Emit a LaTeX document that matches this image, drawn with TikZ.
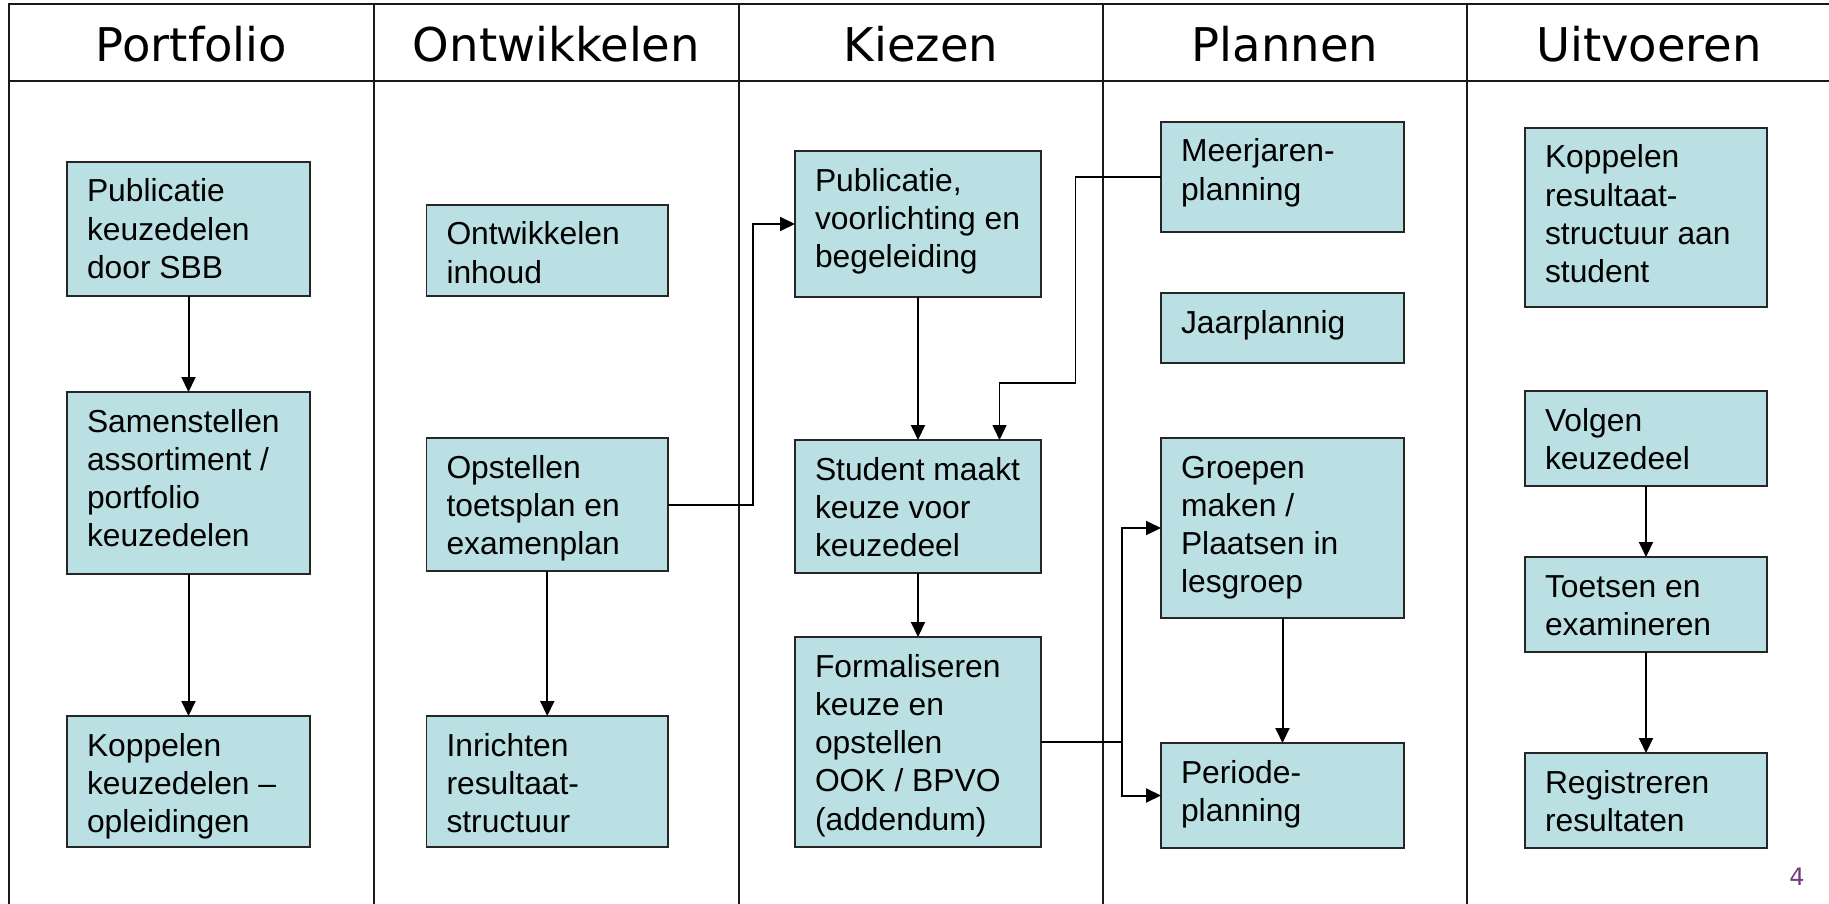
\documentclass[tikz,border=0pt]{standalone}
\usepackage{fontspec}
\setmainfont{Liberation Sans}
\newfontfamily\headfont{DejaVu Sans}
\usetikzlibrary{arrows.meta}
\definecolor{boxfill}{RGB}{186,224,227}
\definecolor{pgcol}{RGB}{118,56,128}
\newcommand{\boxfont}{\fontsize{31.8pt}{38.3pt}\selectfont}
\newcommand{\bx}[6]{%
  \node[boxst, minimum width=#4pt, minimum height=#5pt, anchor=north west] (#1) at (#2,#3)
  {\parbox[c][#5pt][t]{#4pt}{\boxfont\parindent=0pt\leftskip=20pt\rightskip=0pt plus 1fil\rule{0pt}{40pt}#6}};}
\tikzset{
  boxst/.style={draw=black!85, line width=1.5pt, fill=boxfill, inner sep=0pt, outer sep=0pt},
  headst/.style={font=\headfont\fontsize{46.5pt}{50pt}\selectfont, anchor=base, inner sep=0pt},
  gridline/.style={line width=2pt, black!90},
  arr/.style={line width=2pt, -{Triangle[length=15pt,width=14pt]}},
  thinarr/.style={line width=1.6pt, -{Triangle[length=15pt,width=14pt]}},
  pgnum/.style={font=\headfont\fontsize{24pt}{26pt}\selectfont, text=pgcol, inner sep=0pt}
}
\begin{document}
\begin{tikzpicture}[x=1pt,y=-1pt]
\useasboundingbox (0,0) rectangle (1829,904);
\clip (0,0) rectangle (1829,904);
% table grid
\draw[gridline] (9,910) -- (9,4) -- (1840,4);
\draw[gridline] (9,81) -- (1840,81);
\draw[gridline] (374,4) -- (374,910);
\draw[gridline] (739,4) -- (739,910);
\draw[gridline] (1103,4) -- (1103,910);
\draw[gridline] (1467,4) -- (1467,910);
% headers
\node[headst] (h1) at (191.5,62) {Portfolio};
\node[headst] (h2) at (556.5,62) {Ontwikkelen};
\node[headst] (h3) at (921,62) {Kiezen};
\node[headst] (h4) at (1285,62) {Plannen};
\node[headst] (h5) at (1649,62) {Uitvoeren};
% boxes
\bx{b1}{67}{162}{243}{134}{Publicatie\\keuzedelen\\door SBB}
\bx{b2}{67}{392}{243}{182}{Samenstellen\\assortiment /\\portfolio\\keuzedelen}
\bx{b3}{67}{716}{243}{131}{Koppelen\\keuzedelen –\\opleidingen}
\bx{b4}{426.5}{205}{241.5}{91}{Ontwikkelen\\inhoud}
\bx{b5}{426.5}{438}{241.5}{133}{Opstellen\\toetsplan en\\examenplan}
\bx{b6}{426.5}{716}{241.5}{131}{Inrichten\\resultaat-\\structuur}
\bx{b7}{795}{151}{246}{146}{Publicatie,\\voorlichting en\\begeleiding}
\bx{b8}{795}{440}{246}{133}{Student maakt\\keuze voor\\keuzedeel}
\bx{b9}{795}{637}{246}{210}{Formaliseren\\keuze en\\opstellen\\OOK / BPVO\\(addendum)}
\bx{b10}{1161}{122}{243}{110}{Meerjaren-\\planning}
\bx{b11}{1161}{293}{243}{70}{Jaarplannig}
\bx{b12}{1161}{438}{243}{180}{Groepen\\maken /\\Plaatsen in\\lesgroep}
\bx{b13}{1161}{743}{243}{105}{Periode-\\planning}
\bx{b14}{1525}{128}{242}{179}{Koppelen\\resultaat-\\structuur aan\\student}
\bx{b15}{1525}{391}{242}{95}{Volgen\\keuzedeel}
\bx{b16}{1525}{557}{242}{95}{Toetsen en\\examineren}
\bx{b17}{1525}{753}{242}{95}{Registreren\\resultaten}
% connectors
\draw[arr] (b1.south) -- (b2.north);
\draw[arr] (b2.south) -- (b3.north);
\draw[arr] (b5.south) -- (b6.north);
\draw[arr] (b5.east) -- ++(85,0) |- (b7.west);
\draw[arr] (b7.south) -- (b8.north);
\coordinate (k1) at (999.5,383);
\draw[thinarr] (b10.west) -- ++(-85.5,0) |- (k1) -- (k1 |- b8.north);
\draw[arr] (b8.south) -- (b9.north);
\draw[arr] (b9.east) -- ++(81,0) |- (b12.west);
\draw[arr] (b9.east) -- ++(81,0) |- (b13.west);
\draw[arr] (b12.south) -- (b13.north);
\draw[arr] (b15.south) -- (b16.north);
\draw[arr] (b16.south) -- (b17.north);
% page number
\node[pgnum] (pg) at (1797,877) {4};
\end{tikzpicture}
\end{document}
